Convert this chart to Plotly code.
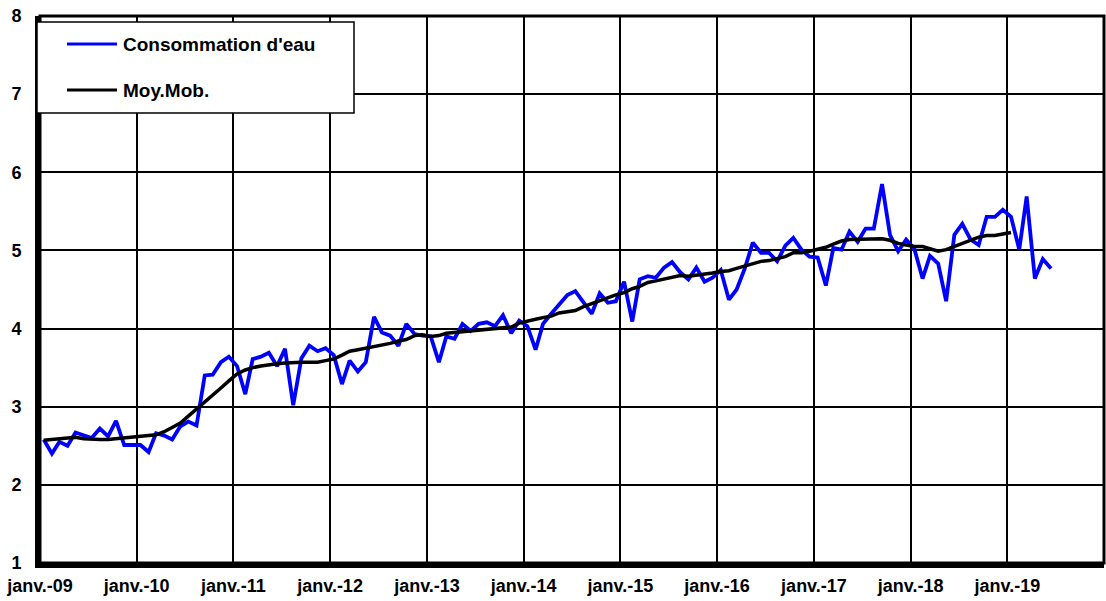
import pandas as pd
import plotly.graph_objects as go

# Monthly water consumption, Jan 2009 .. Jun 2019
consommation = [
    2.58, 2.40, 2.55, 2.50, 2.67, 2.63, 2.60, 2.72, 2.62, 2.82, 2.51, 2.51,   # 2009
    2.51, 2.42, 2.66, 2.63, 2.58, 2.75, 2.81, 2.76, 3.40, 3.41, 3.57, 3.64,   # 2010
    3.52, 3.16, 3.61, 3.64, 3.69, 3.52, 3.74, 3.02, 3.62, 3.78, 3.71, 3.75,   # 2011
    3.66, 3.29, 3.59, 3.45, 3.57, 4.15, 3.95, 3.91, 3.78, 4.06, 3.93, 3.91,   # 2012
    3.90, 3.57, 3.90, 3.87, 4.06, 3.97, 4.06, 4.08, 4.03, 4.17, 3.94, 4.10,   # 2013
    4.03, 3.73, 4.06, 4.19, 4.31, 4.43, 4.48, 4.33, 4.19, 4.45, 4.33, 4.35,   # 2014
    4.60, 4.09, 4.63, 4.67, 4.65, 4.78, 4.85, 4.72, 4.63, 4.78, 4.60, 4.65,   # 2015
    4.75, 4.37, 4.50, 4.77, 5.10, 4.97, 4.97, 4.86, 5.06, 5.16, 5.01, 4.92,   # 2016
    4.91, 4.55, 5.03, 5.01, 5.24, 5.11, 5.28, 5.28, 5.85, 5.20, 4.99, 5.14,   # 2017
    5.02, 4.64, 4.93, 4.83, 4.35, 5.20, 5.34, 5.14, 5.07, 5.43, 5.43, 5.52,   # 2018
    5.43, 5.01, 5.69, 4.64, 4.89, 4.77,                                       # 2019
]

# Moving average, Jan 2009 .. Jan 2019
moy_mob = [
    2.57, 2.58, 2.59, 2.59, 2.61, 2.59, 2.58, 2.58, 2.58, 2.59, 2.60, 2.61,
    2.61, 2.62, 2.64, 2.68, 2.73, 2.79, 2.88, 2.97, 3.05, 3.15, 3.24, 3.33,
    3.42, 3.47, 3.50, 3.52, 3.54, 3.55, 3.56, 3.57, 3.57, 3.57, 3.57, 3.59,
    3.61, 3.66, 3.71, 3.73, 3.75, 3.76, 3.79, 3.81, 3.84, 3.86, 3.91, 3.92,
    3.90, 3.91, 3.94, 3.95, 3.96, 3.97, 3.98, 3.99, 4.00, 4.01, 4.02, 4.07,
    4.10, 4.12, 4.14, 4.16, 4.20, 4.21, 4.23, 4.28, 4.32, 4.36, 4.40, 4.43,
    4.46, 4.51, 4.54, 4.59, 4.61, 4.63, 4.66, 4.68, 4.67, 4.68, 4.69, 4.71,
    4.73, 4.74, 4.77, 4.80, 4.83, 4.86, 4.87, 4.89, 4.92, 4.97, 4.97, 4.99,
    5.01, 5.04, 5.08, 5.12, 5.14, 5.14, 5.15, 5.15, 5.15, 5.13, 5.09, 5.07,
    5.05, 5.05, 5.02, 4.99, 5.01, 5.05, 5.09, 5.12, 5.17, 5.19, 5.19, 5.21,
    5.23,
]

years = list(range(2009, 2020))
tick_labels = ["janv.-%02d" % (y % 100) for y in years]
tick_dates = ["%d-01-01" % y for y in years]

# monthly points centred mid-month
months_c = pd.date_range("2009-01-01", periods=len(consommation), freq="MS") + pd.Timedelta(days=14)
months_m = pd.date_range("2009-01-01", periods=len(moy_mob), freq="MS") + pd.Timedelta(days=14)

name_c = "Consommation d'eau"
name_m = "Moy.Mob."

fig = go.Figure()
fig.add_trace(go.Scatter(x=months_c, y=consommation, mode="lines", name=name_c,
                         line=dict(color="#0000FF", width=3.8), showlegend=False))
fig.add_trace(go.Scatter(x=months_m, y=moy_mob, mode="lines", name=name_m,
                         line=dict(color="#000000", width=3.5), showlegend=False))

W, H = 1106, 601
L, R, T, B = 40, 2, 16, 38
pw, ph = W - L - R, H - T - B


def px(x):
    return (x - L) / pw


def py(y):
    return (H - B - y) / ph


bold = dict(family="Arial, 'Liberation Sans', sans-serif", color="black", weight="bold")

shapes = [
    # outer frame (top/right)
    dict(type="rect", xref="paper", yref="paper", x0=0, x1=1, y0=0, y1=1,
         line=dict(color="black", width=3), layer="above"),
    # legend box
    dict(type="rect", xref="paper", yref="paper", x0=px(37), x1=px(354), y0=py(113), y1=py(22),
         line=dict(color="black", width=1.5), fillcolor="white", layer="above"),
    dict(type="line", xref="paper", yref="paper", x0=px(67), x1=px(117), y0=py(44), y1=py(44),
         line=dict(color="#0000FF", width=3), layer="above"),
    dict(type="line", xref="paper", yref="paper", x0=px(67), x1=px(117), y0=py(90), y1=py(90),
         line=dict(color="black", width=3), layer="above"),
]
annotations = [
    dict(xref="paper", yref="paper", x=px(121), y=py(44), text=name_c, showarrow=False,
         xanchor="left", yanchor="middle", font=dict(size=19, **bold)),
    dict(xref="paper", yref="paper", x=px(121), y=py(90), text=name_m, showarrow=False,
         xanchor="left", yanchor="middle", font=dict(size=19, **bold)),
]

fig.update_layout(
    width=W, height=H,
    margin=dict(l=L, r=R, t=T, b=B, pad=0, autoexpand=False),
    paper_bgcolor="white", plot_bgcolor="white",
    shapes=shapes, annotations=annotations,
    showlegend=False,
)
fig.update_xaxes(
    type="date", range=["2009-01-01", "2020-01-01"],
    tickvals=tick_dates, ticktext=tick_labels,
    showgrid=True, gridcolor="black", gridwidth=1.5,
    showline=True, linecolor="black", linewidth=5,
    ticks="", tickfont=dict(size=18, **bold), ticklabelstandoff=2,
    zeroline=False, automargin=False,
)
fig.update_yaxes(
    range=[1, 8], dtick=1, tick0=1,
    showgrid=True, gridcolor="black", gridwidth=1.5,
    showline=True, linecolor="black", linewidth=5,
    ticks="", tickfont=dict(size=18, **bold), ticklabelstandoff=10,
    zeroline=False, automargin=False,
)

# remove the browser's default page margin so the figure sits at the page origin
fig.write_html("out.html", config={"displayModeBar": False},
               post_script="document.body.style.margin='0';")
